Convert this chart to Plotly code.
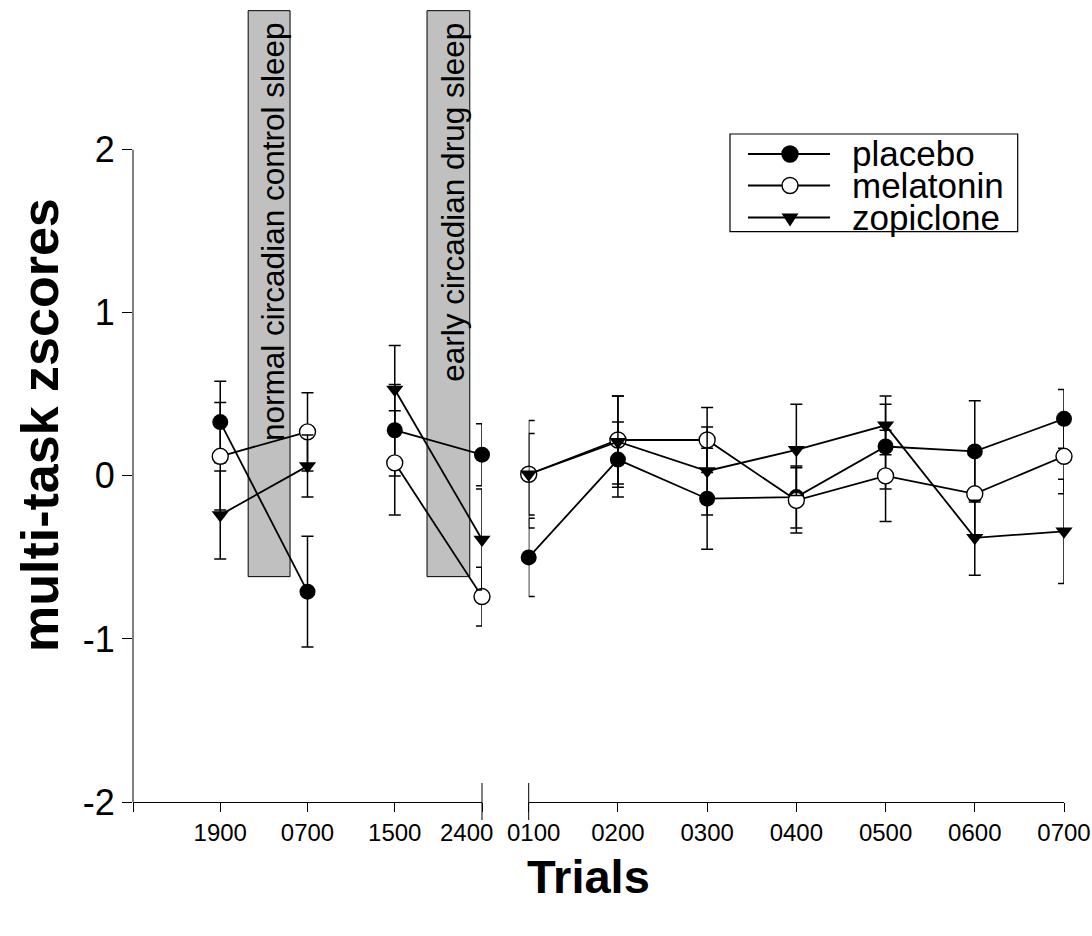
import plotly.graph_objects as go

FONT = "Liberation Sans, Arial, sans-serif"

# Trial clock times: before the axis break (two sleep sessions) and the overnight run after it
left_labels = ["1900", "0700", "1500", "2400"]
right_labels = ["0100", "0200", "0300", "0400", "0500", "0600", "0700"]

# Mean multi-task z-scores and their standard errors (11 trials each)
placebo_mean = [0.33, -0.71, 0.28, 0.13, -0.50, 0.10, -0.14, -0.13, 0.18, 0.15, 0.35]
placebo_se = [0.25, 0.34, 0.28, 0.19, 0.24, 0.23, 0.31, 0.19, 0.26, 0.31, 0.18]

melatonin_mean = [0.12, 0.27, 0.08, -0.74, 0.01, 0.22, 0.22, -0.15, 0.00, -0.11, 0.12]
melatonin_se = [0.33, 0.24, 0.32, 0.18, 0.33, 0.27, 0.20, 0.20, 0.28, 0.26, 0.23]

zopiclone_mean = [-0.24, 0.06, 0.53, -0.39, 0.01, 0.21, 0.03, 0.16, 0.31, -0.38, -0.34]
zopiclone_se = [0.27, 0.19, 0.27, 0.31, 0.25, 0.28, 0.27, 0.28, 0.18, 0.23, 0.32]

# Pairs of left-hand trials joined by a line (evening -> morning around each sleep)
left_sessions = [[0, 1], [2, 3]]

# Layout geometry (pixels of the 1092x936 page)
W, H = 1092, 936
ML, MR, MT, MB = 133, 28, 3, 134
PW, PH = W - ML - MR, H - MT - MB
BREAK_L, BREAK_R = 482.0, 528.7
TICK_FONT = dict(family=FONT, size=24, color="black")


def px_x(p):
    return (p - ML) / PW


def px_y(p):
    return (H - MB - p) / PH


series = [
    ("placebo", placebo_mean, placebo_se,
     dict(symbol="circle", size=16, color="black", line=dict(width=0))),
    ("melatonin", melatonin_mean, melatonin_se,
     dict(symbol="circle", size=16, color="white", line=dict(color="black", width=1.4))),
    ("zopiclone", zopiclone_mean, zopiclone_se,
     dict(symbol="triangle-down", size=15, color="black", line=dict(width=0))),
]

n_left = len(left_labels)
fig = go.Figure()

for name, mean, se, marker in series:
    xs, ys, es = [], [], []
    for k, session in enumerate(left_sessions):
        if k:
            xs.append(None)
            ys.append(None)
            es.append(None)
        for i in session:
            xs.append(i + 1)
            ys.append(mean[i])
            es.append(se[i])
    common = dict(
        mode="lines+markers",
        line=dict(color="black", width=1.8),
        marker=marker,
        name=name,
        showlegend=False,
        cliponaxis=False,
    )
    fig.add_trace(go.Scatter(
        x=xs, y=ys,
        error_y=dict(type="data", array=es, visible=True, color="black",
                     thickness=1.5, width=6),
        xaxis="x", yaxis="y", **common))
    fig.add_trace(go.Scatter(
        x=list(range(len(right_labels))), y=mean[n_left:],
        error_y=dict(type="data", array=se[n_left:], visible=True, color="black",
                     thickness=1.5, width=6),
        xaxis="x2", yaxis="y", **common))

axis_common = dict(
    ticks="outside", ticklen=9, tickwidth=1, tickcolor="black",
    showline=True, linecolor="black", linewidth=1,
    showgrid=False, zeroline=False,
    tickfont=TICK_FONT,
    anchor="y",
)

# the labels either side of the break are set as annotations so they can sit apart
left_ticktext = [""] + left_labels[:-1] + [""]
right_ticktext = [""] + right_labels[1:]

fig.update_layout(
    width=W, height=H,
    margin=dict(l=ML, r=MR, t=MT, b=MB, pad=0, autoexpand=False),
    paper_bgcolor="white", plot_bgcolor="white",
    showlegend=False,
    xaxis=dict(domain=[0, px_x(BREAK_L)], range=[0, n_left],
               tickvals=list(range(n_left + 1)),
               ticktext=left_ticktext, **axis_common),
    xaxis2=dict(domain=[px_x(BREAK_R), 1], range=[0, len(right_labels) - 1],
                tickvals=list(range(len(right_labels))),
                ticktext=right_ticktext, **axis_common),
    yaxis=dict(range=[-2, 2.9], tickvals=[-2, -1, 0, 1, 2],
               ticktext=["-2", "-1", "0", "1", "2"],
               ticks="outside", ticklen=10, tickwidth=1, tickcolor="black",
               showline=False, showgrid=False, zeroline=False,
               tickfont=dict(family=FONT, size=36, color="black"),
               anchor="x"),
)

annotations = [
    dict(xref="x", yref="paper", x=n_left, y=px_y(833), text=left_labels[-1],
         xanchor="right", yanchor="middle", xshift=13, showarrow=False,
         font=TICK_FONT),
    dict(xref="x2", yref="paper", x=0, y=px_y(833), text=right_labels[0],
         xanchor="left", yanchor="middle", xshift=-24, showarrow=False,
         font=TICK_FONT),
]

shapes = []
# y axis line, only between -2 and 2
shapes.append(dict(type="line", xref="paper", yref="y", x0=0, x1=0, y0=-2, y1=2,
                   line=dict(color="black", width=1)))
# axis break marks
for bx in (BREAK_L, BREAK_R):
    shapes.append(dict(type="line", xref="paper", yref="paper",
                       x0=px_x(bx), x1=px_x(bx), y0=px_y(820), y1=px_y(783),
                       line=dict(color="black", width=1)))

# shaded sleep periods with their captions
sleep_periods = [(1.32, 1.80, "normal circadian control sleep"),
                 (3.37, 3.86, "early circadian drug sleep")]
sleep_top, sleep_bottom = 2.853, -0.618
for x0, x1, label in sleep_periods:
    shapes.append(dict(type="rect", xref="x", yref="y", x0=x0, x1=x1,
                       y0=sleep_bottom, y1=sleep_top, fillcolor="#c0c0c0",
                       line=dict(color="black", width=1), layer="below"))
    annotations.append(dict(xref="x", yref="y", x=(x0 + x1) / 2 + 0.05,
                            y=sleep_top - 0.06, text=label, textangle=-90,
                            xanchor="center", yanchor="top", showarrow=False,
                            font=dict(family=FONT, size=31.5, color="black")))

# legend box drawn by hand
LEG_L, LEG_R, LEG_T, LEG_B = 730, 1017.7, 134, 231.7
shapes.append(dict(type="rect", xref="paper", yref="paper",
                   x0=px_x(LEG_L), x1=px_x(LEG_R), y0=px_y(LEG_B), y1=px_y(LEG_T),
                   line=dict(color="black", width=1.2), fillcolor="white"))
row_y = [154, 185.5, 217.5]
for (name, _, _, marker), ry in zip(series, row_y):
    shapes.append(dict(type="line", xref="paper", yref="paper",
                       x0=px_x(748), x1=px_x(830), y0=px_y(ry), y1=px_y(ry),
                       line=dict(color="black", width=1.8)))
    if marker["symbol"] == "circle":
        shapes.append(dict(type="circle", xref="paper", yref="paper",
                           xsizemode="pixel", ysizemode="pixel",
                           xanchor=px_x(790), yanchor=px_y(ry),
                           x0=-8, x1=8, y0=-8, y1=8,
                           fillcolor=marker["color"],
                           line=dict(color="black", width=1.4)))
    else:
        shapes.append(dict(type="path", xref="paper", yref="paper",
                           xsizemode="pixel", ysizemode="pixel",
                           xanchor=px_x(790), yanchor=px_y(ry),
                           path="M-8.5,4 L8.5,4 L0,-9 Z",
                           fillcolor="black", line=dict(color="black", width=0)))
    annotations.append(dict(xref="paper", yref="paper", x=px_x(850), y=px_y(ry),
                            text=name, xanchor="left", yanchor="middle",
                            showarrow=False,
                            font=dict(family=FONT, size=35, color="black")))

# axis titles
annotations.append(dict(xref="paper", yref="paper", x=px_x(40), y=px_y(425),
                        text="<b>multi-task zscores</b>", textangle=-90,
                        xanchor="center", yanchor="middle", showarrow=False,
                        font=dict(family=FONT, size=52, color="black")))
annotations.append(dict(xref="paper", yref="paper", x=px_x(588), y=px_y(876),
                        text="<b>Trials</b>", xanchor="center", yanchor="middle",
                        showarrow=False,
                        font=dict(family=FONT, size=47, color="black")))

fig.update_layout(shapes=shapes, annotations=annotations)

fig.write_html("out.html")
